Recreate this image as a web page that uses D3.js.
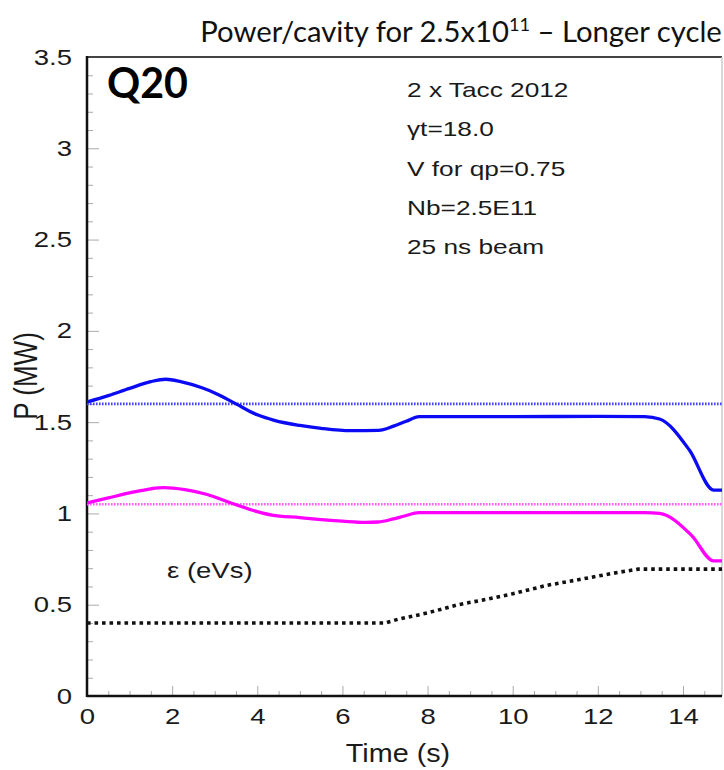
<!DOCTYPE html>
<html>
<head>
<meta charset="utf-8">
<script src="https://cdn.jsdelivr.net/npm/d3@7"></script>
<style>
  html, body { margin: 0; padding: 0; background: #fff; }
  svg { display: block; }
</style>
</head>
<body>
<svg id="chart" width="724" height="770"></svg>
<script>
// RF power per cavity over the cycle (MW) and longitudinal emittance (eVs)
const timeBlue = [0, 0.5, 1.0, 1.5, 1.85, 2.2, 2.7, 3.0, 3.5, 4.0, 4.4, 5.0, 5.5, 6.2, 6.85, 7.2, 7.5, 7.8, 10.0, 12.0, 13.1, 13.45, 14.15, 14.72, 15.0];
const powerBlue = [1.61, 1.645, 1.685, 1.722, 1.735, 1.722, 1.688, 1.66, 1.60, 1.54, 1.51, 1.482, 1.466, 1.453, 1.455, 1.478, 1.505, 1.53, 1.53, 1.532, 1.53, 1.517, 1.347, 1.128, 1.128];

const timeMagenta = [0, 0.5, 1.0, 1.5, 1.8, 2.3, 2.8, 3.47, 4.0, 4.34, 5.0, 5.43, 6.0, 6.53, 6.84, 7.2, 7.46, 7.8, 10.0, 12.0, 13.1, 13.45, 14.2, 14.72, 15.0];
const powerMagenta = [1.058, 1.085, 1.112, 1.135, 1.141, 1.13, 1.105, 1.05, 1.01, 0.991, 0.977, 0.968, 0.958, 0.951, 0.953, 0.97, 0.986, 1.004, 1.004, 1.004, 1.004, 1.0, 0.88, 0.74, 0.74];

const timeEps = [0, 7.0, 7.3, 8.0, 8.68, 9.5, 10.0, 10.8, 11.5, 12.3, 12.95, 15.0];
const emittance = [0.40, 0.40, 0.42, 0.455, 0.498, 0.535, 0.56, 0.606, 0.635, 0.67, 0.695, 0.695];

// Power limits (dotted)
const limitBlue = 1.6;
const limitMagenta = 1.05;

const xTicks = [0, 2, 4, 6, 8, 10, 12, 14];
const xTickLabels = ["0", "2", "4", "6", "8", "10", "12", "14"];
const yTicks = [0, 0.5, 1, 1.5, 2, 2.5, 3, 3.5];
const yTickLabels = ["0", "0.5", "1", "1.5", "2", "2.5", "3", "3.5"];

const notes = ["2 x Tacc 2012", "\u03b3t=18.0", "V for  qp=0.75", "Nb=2.5E11", "25 ns beam"];

// ---- layout ----
const svg = d3.select("#chart");
const padL = 87, padR = 722, padT = 57, padB = 696;
const SX = 1.25;              // horizontal stretch of the plot lettering
const plotFont = "'Liberation Sans', Arial, Helvetica, sans-serif";

const x = d3.scaleLinear().domain([0, 15]).range([padL, padL + 15 * 42.57]);
const y = d3.scaleLinear().domain([0, 3.5]).range([padB, padT]);

svg.append("defs").append("clipPath").attr("id", "plotclip")
  .append("rect").attr("x", padL).attr("y", padT).attr("width", padR - padL).attr("height", padB - padT);

// title
const title = svg.append("text")
  .attr("x", 461).attr("y", 42)
  .attr("text-anchor", "middle")
  .attr("font-family", "Lato, 'Open Sans', sans-serif")
  .attr("font-size", 30)
  .attr("fill", "#111");
title.append("tspan").text("Power/cavity for 2.5x10");
title.append("tspan").attr("font-size", "0.62em").attr("dy", -11).text("11");
title.append("tspan").attr("dy", 11).text(" \u2013 Longer cycle");
{
  const w = title.node().getBBox().width;
  title.attr("font-size", 30 * 522 / w);
}

// minor ticks
const yMinor = d3.range(0, 35).map(i => i / 10).filter(v => Math.abs(v * 2 - Math.round(v * 2)) > 1e-6);
const xMinor = d3.range(0, 30).map(i => i / 2).filter(v => v % 2 !== 0);

const tickColor = "#aaa";
svg.append("g").attr("transform", `translate(${padL},0)`)
  .call(d3.axisLeft(y).tickValues(yMinor).tickSize(-6).tickFormat(""))
  .call(g => g.select(".domain").remove())
  .call(g => g.selectAll("line").attr("stroke", tickColor));
svg.append("g").attr("transform", `translate(0,${padB})`)
  .call(d3.axisBottom(x).tickValues(xMinor).tickSize(-5).tickFormat(""))
  .call(g => g.select(".domain").remove())
  .call(g => g.selectAll("line").attr("stroke", tickColor));

// major ticks with labels
const yAxis = svg.append("g").attr("transform", `translate(${padL},0)`)
  .call(d3.axisLeft(y).tickValues(yTicks).tickFormat((d, i) => yTickLabels[i])
    .tickSizeInner(-12).tickSizeOuter(0).tickPadding(15))
  .call(g => g.select(".domain").remove());
yAxis.selectAll("line").attr("stroke", tickColor);
yAxis.selectAll("text")
  .attr("font-family", plotFont).attr("font-size", 22).attr("fill", "#1a1a1a")
  .attr("x", -15 / SX).attr("transform", `scale(${SX},1)`);

const xAxis = svg.append("g").attr("transform", `translate(0,${padB})`)
  .call(d3.axisBottom(x).tickValues(xTicks).tickFormat((d, i) => xTickLabels[i])
    .tickSizeInner(-10).tickSizeOuter(0).tickPadding(12))
  .call(g => g.select(".domain").remove());
xAxis.selectAll("line").attr("stroke", tickColor);
xAxis.selectAll("text")
  .attr("font-family", plotFont).attr("font-size", 22).attr("fill", "#1a1a1a")
  .attr("transform", `scale(${SX},1)`);

// frame
svg.append("line").attr("x1", padL).attr("x2", padR).attr("y1", padT).attr("y2", padT)
  .attr("stroke", "#444").attr("stroke-width", 2);
svg.append("line").attr("x1", padR).attr("x2", padR).attr("y1", padT).attr("y2", padB)
  .attr("stroke", "#ccc").attr("stroke-width", 1.5);
svg.append("line").attr("x1", padL).attr("x2", padL).attr("y1", padT - 1).attr("y2", padB + 1)
  .attr("stroke", "#111").attr("stroke-width", 2.5);
svg.append("line").attr("x1", padL).attr("x2", padR).attr("y1", padB).attr("y2", padB)
  .attr("stroke", "#111").attr("stroke-width", 2.5);

// data layer
const plot = svg.append("g").attr("clip-path", "url(#plotclip)");

plot.append("line").attr("x1", x(0)).attr("x2", x(15)).attr("y1", y(limitBlue)).attr("y2", y(limitBlue))
  .attr("stroke", "#4646ff").attr("stroke-width", 2.6).attr("stroke-dasharray", "1.6,1.4");
plot.append("line").attr("x1", x(0)).attr("x2", x(15)).attr("y1", y(limitMagenta)).attr("y2", y(limitMagenta))
  .attr("stroke", "#ff5cff").attr("stroke-width", 2.6).attr("stroke-dasharray", "1.6,1.4");

const line = d3.line().x(d => x(d[0])).y(d => y(d[1])).curve(d3.curveMonotoneX);

plot.append("path").datum(d3.zip(timeBlue, powerBlue))
  .attr("d", line).attr("fill", "none").attr("stroke", "#0a0af5").attr("stroke-width", 3.3)
  .attr("stroke-linejoin", "round");
plot.append("path").datum(d3.zip(timeMagenta, powerMagenta))
  .attr("d", line).attr("fill", "none").attr("stroke", "#ff00ff").attr("stroke-width", 3.3)
  .attr("stroke-linejoin", "round");
plot.append("path").datum(d3.zip(timeEps, emittance))
  .attr("d", d3.line().x(d => x(d[0])).y(d => y(d[1])))
  .attr("fill", "none").attr("stroke", "#111").attr("stroke-width", 3.6)
  .attr("stroke-dasharray", "3.6,3.9");

// Q20 tag
const q = svg.append("text").attr("x", 107).attr("y", 98)
  .attr("font-family", "Lato, 'Open Sans', sans-serif").attr("font-weight", "bold")
  .attr("font-size", 38).attr("fill", "#000").text("Q20");
{
  const w = q.node().getBBox().width;
  q.attr("font-size", 38 * 81 / w);
}

// machine settings
svg.append("g").selectAll("text").data(notes).join("text")
  .attr("transform", (d, i) => `translate(407,${97 + i * 39.3}) scale(${SX},1)`)
  .attr("font-family", plotFont).attr("font-size", 21).attr("fill", "#1a1a1a")
  .text(d => d);

// emittance tag
svg.append("text").attr("transform", `translate(167,578) scale(${SX},1)`)
  .attr("font-family", plotFont).attr("font-size", 22).attr("fill", "#1a1a1a")
  .text("\u03b5 (eVs)");

// axis titles
svg.append("text").attr("transform", `translate(398,762) scale(1.15,1)`)
  .attr("text-anchor", "middle")
  .attr("font-family", plotFont).attr("font-size", 25).attr("fill", "#1a1a1a")
  .text("Time (s)");
svg.append("text").attr("transform", `translate(37,376) rotate(-90) scale(1,${SX})`)
  .attr("text-anchor", "middle")
  .attr("font-family", plotFont).attr("font-size", 26).attr("fill", "#1a1a1a")
  .text("P (MW)");
</script>
</body>
</html>
